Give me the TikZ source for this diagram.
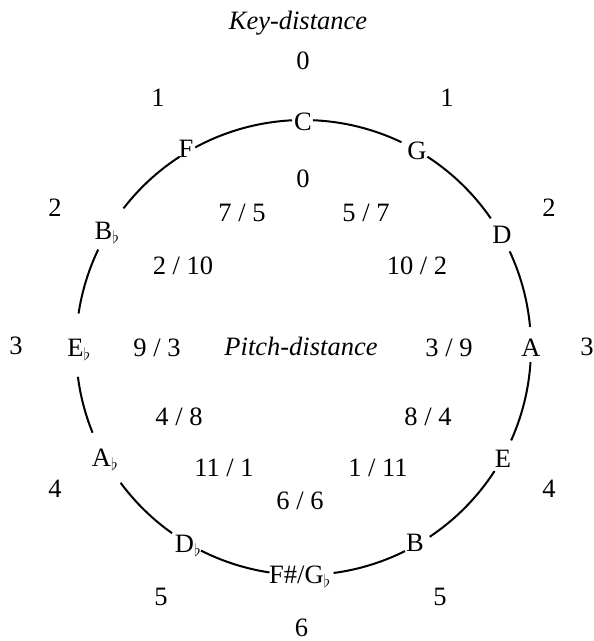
\documentclass[tikz,border=0pt]{standalone}
\usepackage{fontspec}
\setmainfont{Liberation Serif}
\begin{document}
\begin{tikzpicture}[x=1pt,y=1pt,
  lbl/.style={font=\fontsize{26.5}{31}\selectfont, anchor=base, yshift=-9pt, inner sep=0pt},
  ring/.style={line width=2pt}]
\useasboundingbox (0,0) rectangle (594,-641);
\coordinate (O) at (303.5,-347.5);
% circle arcs between the notes
\foreach \a/\b in {87.6/64.5, 57/34.6, 25/5.2, -3.7/-24.1, -32.9/-56.3, -63.5/-82.4,
                   261.4/243.2, 234.7/216.5, 202/187.4, 171.4/154.5, 142.3/123, 118.4/92.9}
  \draw[ring] ([shift={(\a:227.5)}]O) arc[start angle=\a, end angle=\b, radius=227.5];
% titles
\node[lbl] (kd) at (298,-20) {\itshape Key-distance};
\node[lbl] (pd) at (301,-346) {\itshape Pitch-distance};
% notes
\node[lbl] (C) at (303,-121) {C};
\node[lbl] (G) at (417,-150) {G};
\node[lbl] (D) at (502,-234) {D};
\node[lbl] (A) at (531,-347) {A};
\node[lbl] (E) at (503,-458) {E};
\node[lbl] (B) at (415,-542) {B};
\node[lbl] (Fs) at (300,-574) {F\#/G$_\flat$};
\node[lbl] (Db) at (188,-543) {D$_\flat$};
\node[lbl] (Ab) at (105,-457) {A$_\flat$};
\node[lbl] (Eb) at (79,-347) {E$_\flat$};
\node[lbl] (Bb) at (107,-230) {B$_\flat$};
\node[lbl] (F) at (186,-148) {F};
% key distances
\node[lbl] (k0) at (303,-60) {0};
\node[lbl] (k1l) at (158,-97) {1};
\node[lbl] (k1r) at (447,-97) {1};
\node[lbl] (k2l) at (55,-207) {2};
\node[lbl] (k2r) at (549,-207) {2};
\node[lbl] (k3l) at (16,-345) {3};
\node[lbl] (k3r) at (587,-346) {3};
\node[lbl] (k4l) at (55,-488) {4};
\node[lbl] (k4r) at (549,-488) {4};
\node[lbl] (k5l) at (161,-596) {5};
\node[lbl] (k5r) at (440,-596) {5};
\node[lbl] (k6) at (301.5,-627.5) {6};
% pitch distances
\node[lbl] (p0) at (303,-178) {0};
\node[lbl] (p75) at (242,-212) {7 / 5};
\node[lbl] (p57) at (366,-212) {5 / 7};
\node[lbl] (p210) at (183,-265) {2 / 10};
\node[lbl] (p102) at (417,-265) {10 / 2};
\node[lbl] (p93) at (157,-347) {9 / 3};
\node[lbl] (p39) at (449,-347) {3 / 9};
\node[lbl] (p48) at (179,-416) {4 / 8};
\node[lbl] (p84) at (428,-416) {8 / 4};
\node[lbl] (p111) at (224,-467) {11 / 1};
\node[lbl] (p111r) at (378,-467) {1 / 11};
\node[lbl] (p66) at (300,-500) {6 / 6};
\end{tikzpicture}
\end{document}
